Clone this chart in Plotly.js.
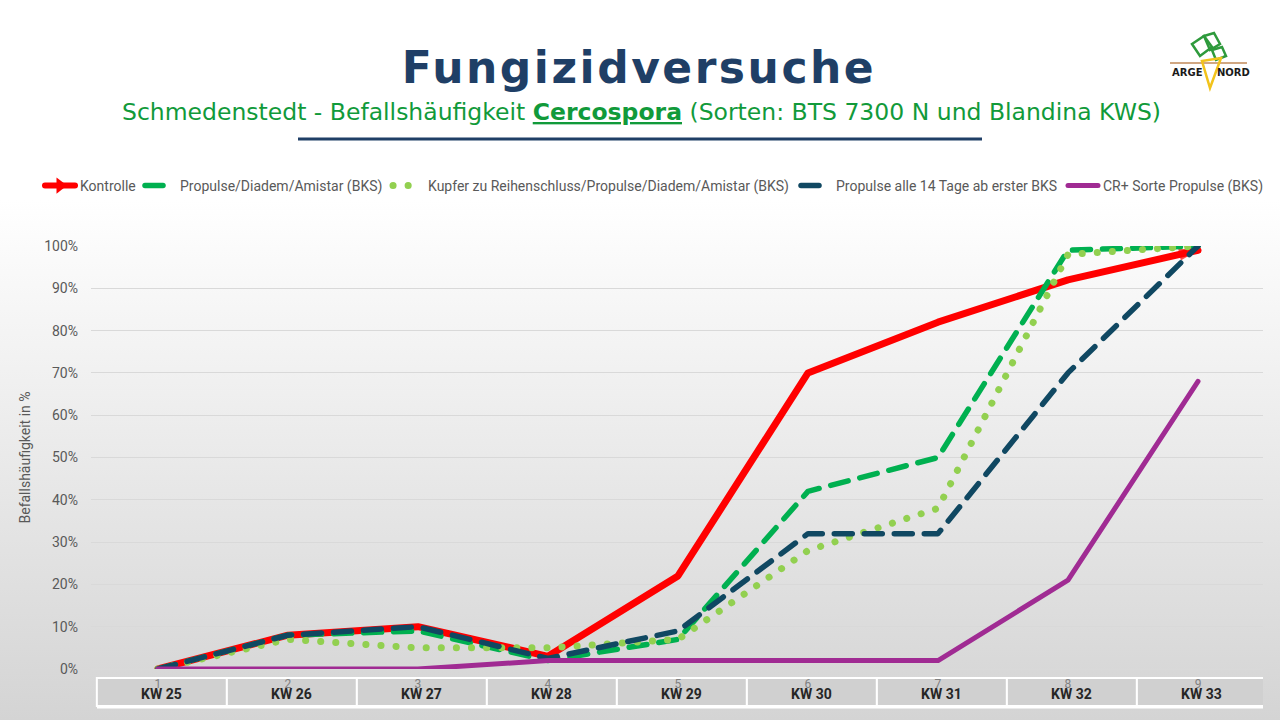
<!DOCTYPE html>
<html>
<head>
<meta charset="utf-8">
<script src="https://cdn.plot.ly/plotly-3.0.1.min.js"></script>
<style>
  html, body { margin:0; padding:0; width:1280px; height:720px; overflow:hidden;
    background: linear-gradient(to bottom, #ffffff 0px, #ffffff 200px, #d4d4d4 720px); }
  #chart { width:1280px; height:720px; }
  .js-line { stroke-linecap: round; stroke-linejoin: round; }
  .legendlines path { stroke-linecap: round; }
  .gtitle { letter-spacing: 2.5px; }
</style>
</head>
<body>
<div id="chart"></div>
<script>
// ---- data ----
const weekLabels = ['KW 25','KW 26','KW 27','KW 28','KW 29','KW 30','KW 31','KW 32','KW 33'];
const weekIndex = [1,2,3,4,5,6,7,8,9];
const kontrolle = [0, 0.08, 0.10, 0.03, 0.22, 0.70, 0.82, 0.92, 0.99];
const propulseBKS = [0, 0.08, 0.09, 0.02, 0.07, 0.42, 0.50, 0.99, 1.00];
const kupfer = [0, 0.07, 0.05, 0.05, 0.07, 0.28, 0.38, 0.98, 1.00];
const propulse14 = [0, 0.08, 0.10, 0.025, 0.09, 0.32, 0.32, 0.70, 1.00];
const crSorte = [0, 0, 0, 0.02, 0.02, 0.02, 0.02, 0.21, 0.68];
const seriesNames = [
  'Kontrolle',
  'Propulse/Diadem/Amistar (BKS)',
  'Kupfer zu Reihenschluss/Propulse/Diadem/Amistar (BKS)',
  'Propulse alle 14 Tage ab erster BKS',
  'CR+ Sorte Propulse (BKS)'
];

// ---- layout helpers (pixel -> paper) ----
const L = 91, R = 1263, T = 246, B = 669;
const W = R - L, H = B - T;
const px = x => (x - L) / W;
const py = y => (B - y) / H;

const font = "Roboto, 'Liberation Sans', sans-serif";
const gray = '#595959';

const arrowSizes = kontrolle.map((v, i) => i === kontrolle.length - 1 ? 20 : 0);

const traces = [
  { x:[null], y:[null], name: seriesNames[0], mode:'lines+markers', legend:'legend',
    line:{color:'#ff0000', width:6}, marker:{symbol:'triangle-right', size:14, color:'#ff0000'},
    hoverinfo:'skip' },
  { x: weekIndex, y: kontrolle, name: seriesNames[0], mode:'lines+markers', showlegend:false,
    line:{color:'#ff0000', width:7},
    marker:{symbol:'arrow', size: arrowSizes, angleref:'previous', color:'#ff0000', line:{width:0}},
    cliponaxis:false },
  { x: weekIndex, y: propulseBKS, name: seriesNames[1], mode:'lines', legend:'legend2',
    line:{color:'#00b050', width:5.5, dash:'18px,12px'}, cliponaxis:false },
  { x: weekIndex, y: kupfer, name: seriesNames[2], mode:'lines', legend:'legend3',
    line:{color:'#92d050', width:7, dash:'0.1px,15px'}, cliponaxis:false },
  { x: weekIndex, y: propulse14, name: seriesNames[3], mode:'lines', legend:'legend4',
    line:{color:'#104862', width:5.5, dash:'18px,12px'}, cliponaxis:false },
  { x: weekIndex, y: crSorte, name: seriesNames[4], mode:'lines', legend:'legend5',
    line:{color:'#a02b93', width:5}, cliponaxis:false }
];

// table shapes + labels
const shapes = [];
const annotations = [];
const cellTop = py(678), cellBot = py(706);
weekIndex.forEach((k, i) => {
  shapes.push({ type:'rect', xref:'x', yref:'paper', x0: k - 0.5 + 0.03, x1: k + 0.5 + 0.03,
    y0: cellBot, y1: cellTop, fillcolor:'#d0d0d0', line:{color:'#ffffff', width:2}, layer:'below' });
  annotations.push({ x: k + 0.03, xref:'x', y: py(694), yref:'paper', text: '<b>' + weekLabels[i] + '</b>',
    showarrow:false, font:{family:font, size:14, color:'#262626'}, xanchor:'center', yanchor:'middle' });
});
shapes.push({ type:'line', xref:'paper', yref:'paper', x0: px(97), x1: px(1263), y0: py(707), y1: py(707),
  line:{color:'#ffffff', width:3}, layer:'below' });

// subtitle underline
shapes.push({ type:'line', xref:'paper', yref:'paper', x0: px(298), x1: px(982), y0: py(139), y1: py(139),
  line:{color:'#1f3f66', width:3} });

// subtitle
annotations.push({ xref:'paper', yref:'paper', x: px(641), y: py(112), xanchor:'center', yanchor:'middle',
  showarrow:false,
  text: 'Schmedenstedt - Befallshäufigkeit <b><span style="text-decoration:underline">Cercospora</span></b> (Sorten: BTS 7300 N und Blandina KWS)',
  font:{family:"'DejaVu Sans', sans-serif", size:23.5, color:'#119a3a'} });

// logo
shapes.push({ type:'path', xref:'paper', yref:'paper',
  path: `M ${px(1192)},${py(44)} L ${px(1204)},${py(36)} L ${px(1212)},${py(47)} L ${px(1200)},${py(56)} Z`,
  line:{color:'#2e9a3c', width:2.5}, fillcolor:'rgba(0,0,0,0)' });
shapes.push({ type:'path', xref:'paper', yref:'paper',
  path: `M ${px(1204)},${py(36)} L ${px(1214)},${py(33)} L ${px(1220)},${py(44)} L ${px(1210)},${py(50)} Z`,
  line:{color:'#2e9a3c', width:2.5}, fillcolor:'rgba(0,0,0,0)' });
shapes.push({ type:'path', xref:'paper', yref:'paper',
  path: `M ${px(1212)},${py(50)} L ${px(1222)},${py(47)} L ${px(1226)},${py(56)} L ${px(1216)},${py(60)} Z`,
  line:{color:'#2e9a3c', width:2.5}, fillcolor:'rgba(0,0,0,0)' });
shapes.push({ type:'line', xref:'paper', yref:'paper', x0: px(1170), x1: px(1247), y0: py(63), y1: py(63),
  line:{color:'#c08a5a', width:1.5} });
shapes.push({ type:'path', xref:'paper', yref:'paper',
  path: `M ${px(1202)},${py(61)} L ${px(1221)},${py(58)} L ${px(1210)},${py(88)} Z`,
  line:{color:'#f2c31b', width:2.5}, fillcolor:'rgba(0,0,0,0)' });
annotations.push({ xref:'paper', yref:'paper', x: px(1187), y: py(73), text:'<b>ARGE</b>', showarrow:false,
  font:{family:"'DejaVu Sans', sans-serif", size:10, color:'#1a1a1a'}, xanchor:'center', yanchor:'middle' });
annotations.push({ xref:'paper', yref:'paper', x: px(1233), y: py(73), text:'<b>NORD</b>', showarrow:false,
  font:{family:"'DejaVu Sans', sans-serif", size:10, color:'#1a1a1a'}, xanchor:'center', yanchor:'middle' });

// one small legend per series, placed where the reference shows each entry (text start in px)
const legendTextStart = [80, 180, 428, 836, 1103];
function mkLegend(textX) {
  return { orientation:'h', xref:'container', x: (textX - 40) / 1280, xanchor:'left',
    yref:'container', y: 1 - 186/720, yanchor:'middle',
    font:{family:font, size:14, color:gray}, bgcolor:'rgba(0,0,0,0)', itemwidth:30 };
}

const layout = {
  width:1280, height:720,
  paper_bgcolor:'rgba(0,0,0,0)', plot_bgcolor:'rgba(0,0,0,0)',
  margin:{l:L, r:1280-R, t:T, b:720-B, pad:0},
  font:{family:font, color:gray},
  title:{ text:'<b>Fungizidversuche</b>', x: 639/1280, xref:'container', xanchor:'center', y: 1 - 68/720, yref:'container', yanchor:'middle',
    font:{family:"'DejaVu Sans', sans-serif", size:44, color:'#1f3f66'} },
  showlegend:true,
  legend: mkLegend(legendTextStart[0]),
  legend2: mkLegend(legendTextStart[1]),
  legend3: mkLegend(legendTextStart[2]),
  legend4: mkLegend(legendTextStart[3]),
  legend5: mkLegend(legendTextStart[4]),
  xaxis:{ range:[0.485, 9.5], tickmode:'array', tickvals: weekIndex, ticktext: weekIndex.map(String),
    showgrid:false, zeroline:false, showline:false, ticks:'', ticklabelstandoff:6,
    tickfont:{family:font, size:12, color:'#808080'}, fixedrange:true },
  yaxis:{ range:[0, 1], tickformat:'.0%', dtick:0.1, tick0:0, showgrid:true, gridcolor:'#d9d9d9', gridwidth:1,
    zeroline:true, zerolinecolor:'#d9d9d9', showline:false, ticks:'', ticklabelstandoff:12,
    tickfont:{family:font, size:14, color:gray},
    title:{ text:'Befallshäufigkeit in %', font:{family:font, size:14, color:gray}, standoff:10 }, fixedrange:true },
  shapes: shapes,
  annotations: annotations
};

Plotly.newPlot('chart', traces, layout, {displayModeBar:false, staticPlot:true});
</script>
</body>
</html>
